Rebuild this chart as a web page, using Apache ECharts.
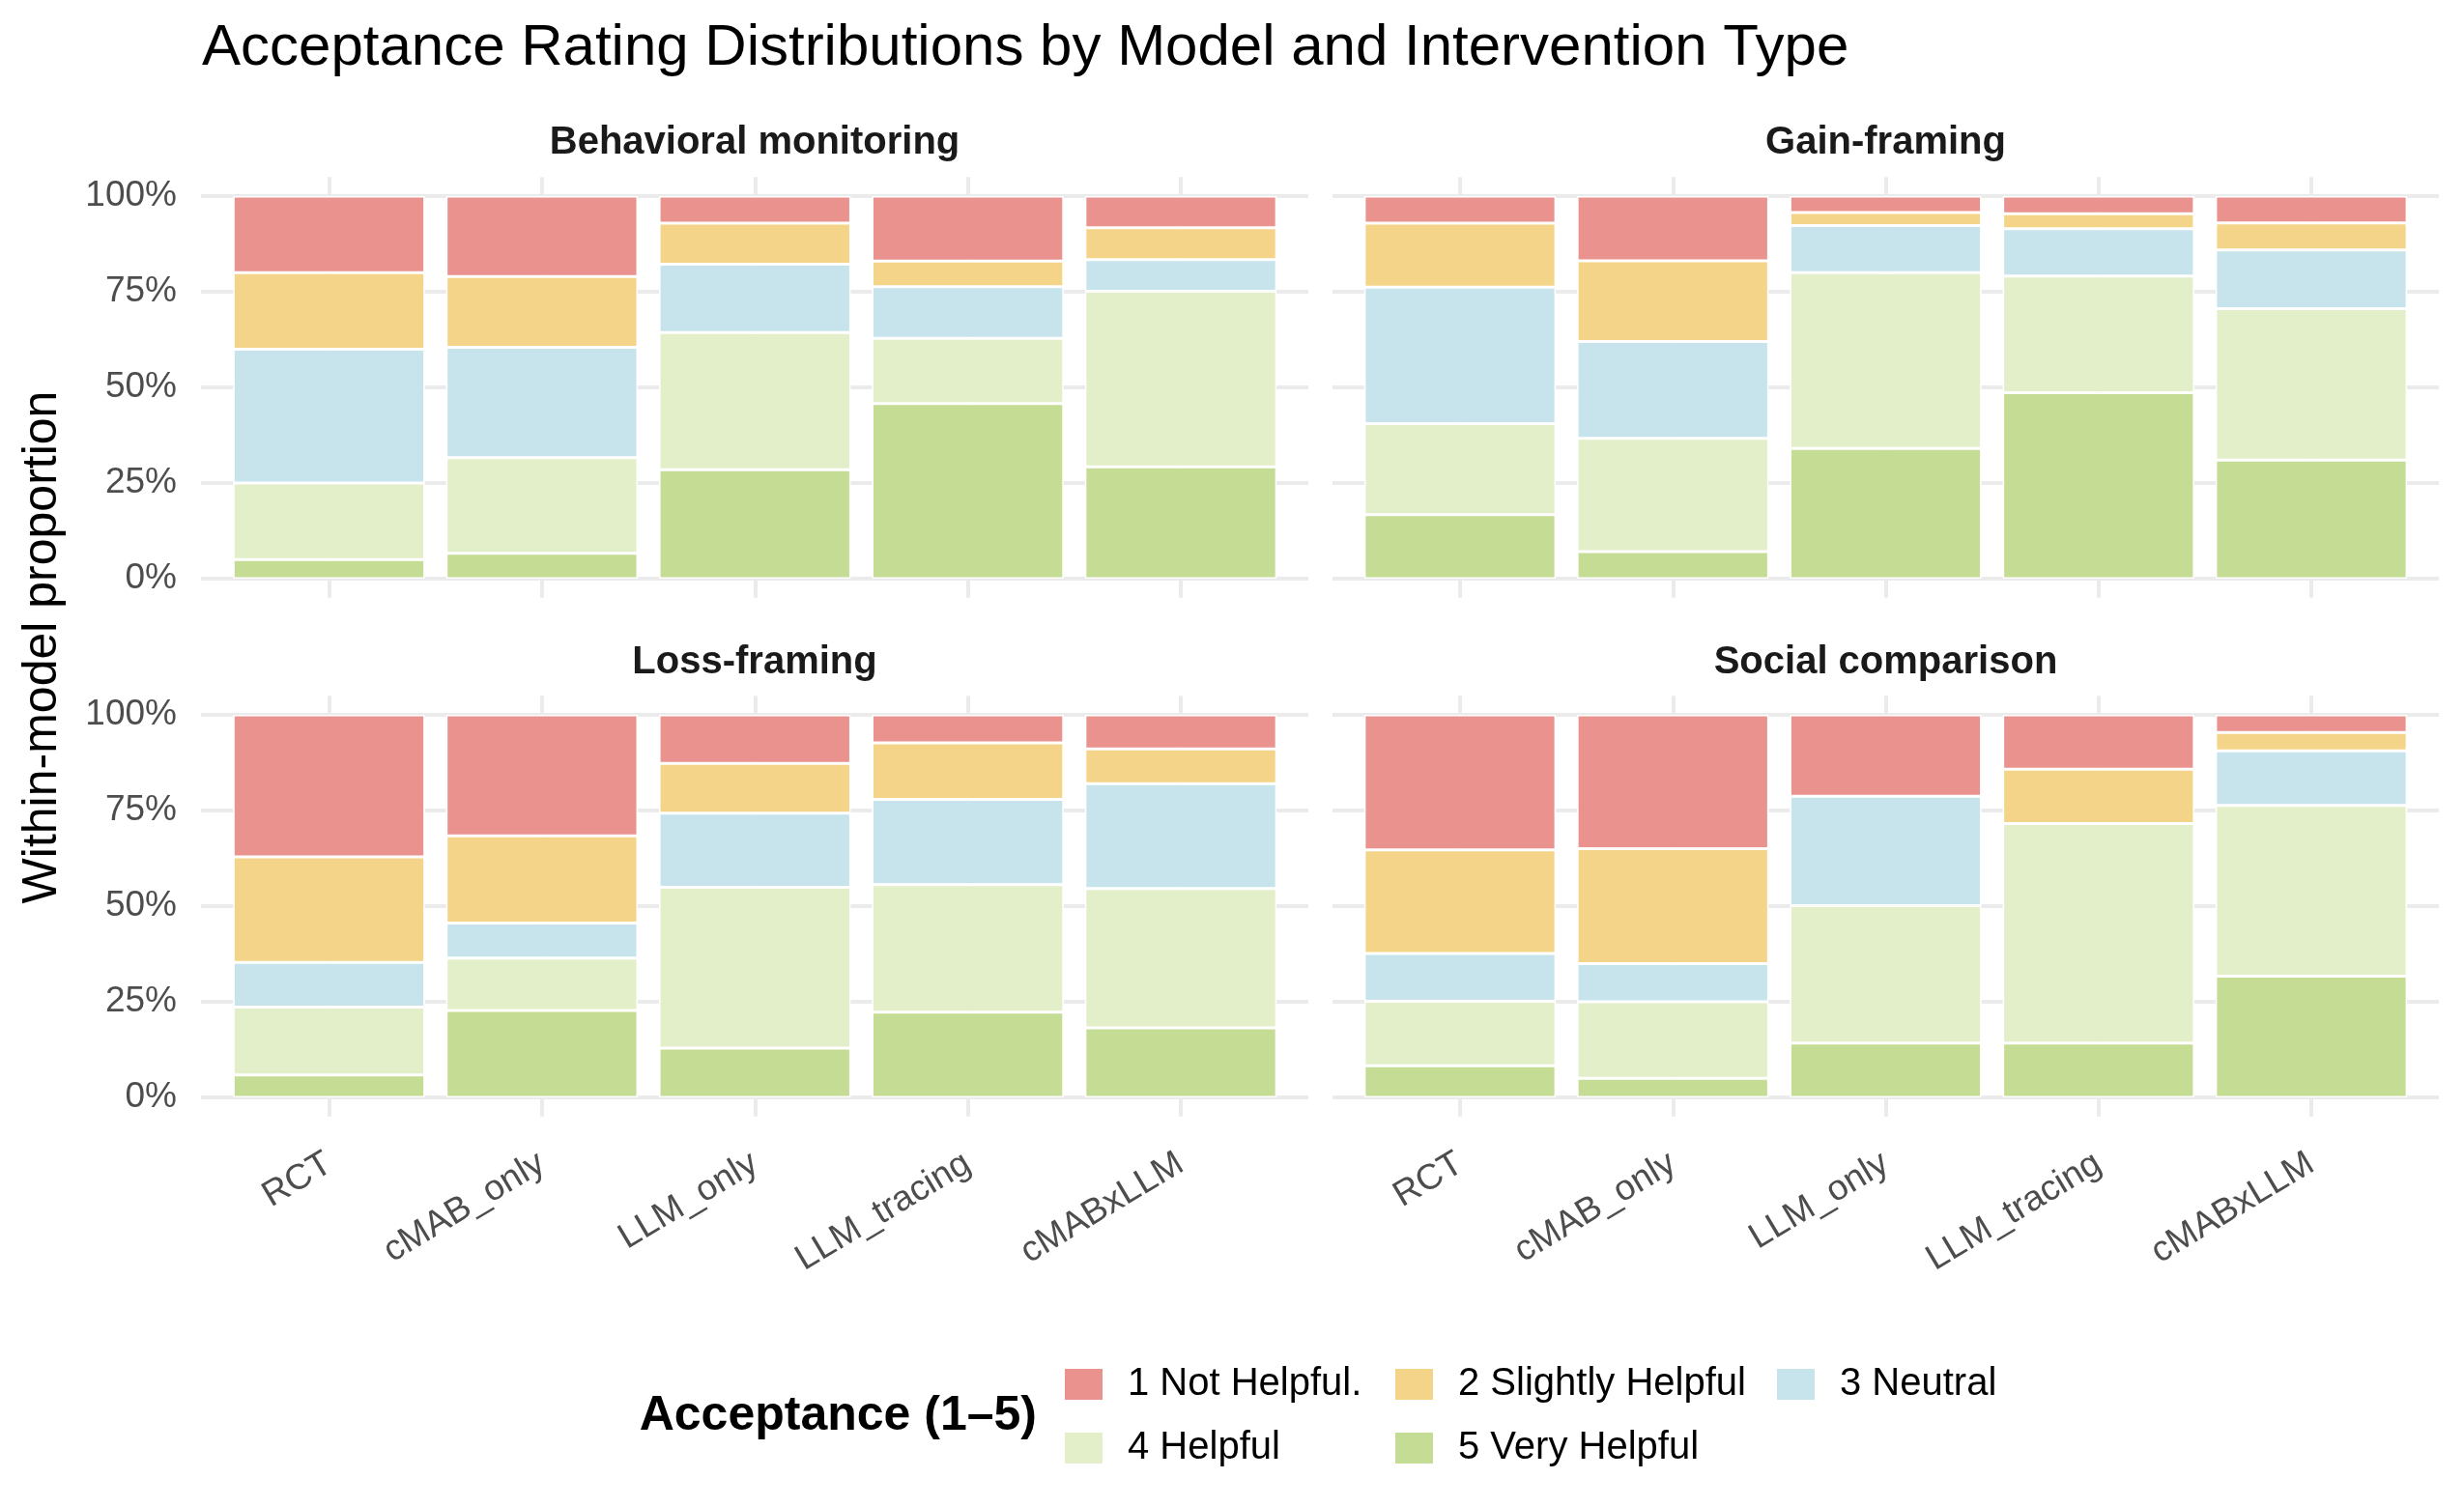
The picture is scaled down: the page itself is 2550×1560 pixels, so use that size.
<!DOCTYPE html>
<html>
<head>
<meta charset="utf-8">
<script src="https://cdn.jsdelivr.net/npm/echarts@6/dist/echarts.min.js"></script>
<style>
html,body{margin:0;padding:0;background:#fff;}
#chart{width:2550px;height:1560px;}
</style>
</head>
<body>
<div id="chart"></div>
<script>
const models = ['RCT', 'cMAB_only', 'LLM_only', 'LLM_tracing', 'cMABxLLM'];
const interventions = ['Behavioral monitoring', 'Gain-framing', 'Loss-framing', 'Social comparison'];
const ratingNames = ['1 Not Helpful.', '2 Slightly Helpful', '3 Neutral', '4 Helpful', '5 Very Helpful'];
const ratingColors = ['#E9928E', '#F4D488', '#C7E4EC', '#E2EFC9', '#C5DC94'];
const yTicks = [0, 0.25, 0.5, 0.75, 1];
const yTickLabels = ['0%', '25%', '50%', '75%', '100%'];

// rows: rating 1..5, columns: models
const behavioralMonitoring = [
  [0.200, 0.210, 0.071, 0.170, 0.083],
  [0.200, 0.185, 0.107, 0.067, 0.083],
  [0.350, 0.289, 0.179, 0.135, 0.083],
  [0.200, 0.250, 0.358, 0.170, 0.459],
  [0.050, 0.066, 0.285, 0.458, 0.292]
];
const gainFraming = [
  [0.071, 0.169, 0.043, 0.046, 0.070],
  [0.167, 0.211, 0.034, 0.039, 0.071],
  [0.357, 0.253, 0.123, 0.124, 0.153],
  [0.238, 0.296, 0.460, 0.305, 0.396],
  [0.167, 0.071, 0.340, 0.486, 0.310]
];
const lossFraming = [
  [0.371, 0.316, 0.127, 0.073, 0.089],
  [0.276, 0.228, 0.130, 0.148, 0.091],
  [0.117, 0.092, 0.194, 0.223, 0.274],
  [0.177, 0.137, 0.420, 0.333, 0.364],
  [0.059, 0.227, 0.129, 0.223, 0.182]
];
const socialComparison = [
  [0.353, 0.350, 0.213, 0.142, 0.046],
  [0.271, 0.300, 0.000, 0.142, 0.048],
  [0.125, 0.100, 0.286, 0.000, 0.143],
  [0.168, 0.200, 0.359, 0.574, 0.446],
  [0.083, 0.050, 0.142, 0.142, 0.317]
];
const panelData = [behavioralMonitoring, gainFraming, lossFraming, socialComparison];

// ---- layout ----
const FONT = '"Liberation Sans", Arial, Helvetica, sans-serif';
const panels = [
  {hl: 208, hw: 1146, vl: 340.5, vw: 881.5, top: 203, h: 396},
  {hl: 1379, hw: 1145, vl: 1511, vw: 881, top: 203, h: 396},
  {hl: 208, hw: 1146, vl: 340.5, vw: 881.5, top: 740, h: 396},
  {hl: 1379, hw: 1145, vl: 1511, vw: 881, top: 740, h: 396}
];
const GRID_COLOR = '#EBEBEB';

const grid = [], xAxis = [], yAxis = [], series = [];
panels.forEach((p, i) => {
  grid.push({left: p.hl, top: p.top, width: p.hw, height: p.h, containLabel: false});
  xAxis.push({type: 'value', gridIndex: i, min: 0, max: 1, show: false, splitLine: {show: false}});
  yAxis.push({
    type: 'value', gridIndex: i, min: 0, max: 1, interval: 0.25,
    axisLine: {show: false}, axisTick: {show: false},
    axisLabel: {
      show: i % 2 === 0, margin: 25, fontSize: 37, color: '#4D4D4D', fontFamily: FONT,
      formatter: v => { const k = yTicks.findIndex(t => Math.abs(t - v) < 1e-6); return k >= 0 ? yTickLabels[k] : ''; }
    },
    splitLine: {show: true, lineStyle: {color: GRID_COLOR, width: 4}}
  });
});
panels.forEach((p, i) => {
  const pad = p.h * 0.05;
  grid.push({left: p.vl, top: p.top - pad, width: p.vw, height: p.h + 2 * pad, containLabel: false});
  xAxis.push({
    type: 'category', gridIndex: 4 + i, data: models, boundaryGap: false,
    axisLine: {show: false}, axisTick: {show: false},
    axisLabel: {
      show: i >= 2, interval: 0, rotate: 31, margin: 46, fontSize: 37,
      color: '#4D4D4D', fontFamily: FONT, hideOverlap: false
    },
    splitLine: {show: true, lineStyle: {color: GRID_COLOR, width: 4}}
  });
  yAxis.push({type: 'value', gridIndex: 4 + i, min: -0.05, max: 1.05, show: false, splitLine: {show: false}});
  for (let r = 4; r >= 0; r--) {
    series.push({
      type: 'bar', name: ratingNames[r], xAxisIndex: 4 + i, yAxisIndex: 4 + i,
      stack: 'panel' + i, barWidth: '90%', data: panelData[i][r],
      itemStyle: {color: ratingColors[r], borderColor: '#FFFFFF', borderWidth: 1.5},
      emphasis: {disabled: true}, animation: false
    });
  }
});

const legendBase = {
  orient: 'vertical', top: 1413, itemWidth: 41, itemHeight: 34, itemGap: 26,
  padding: 0, selectedMode: false, icon: 'rect',
  textStyle: {fontSize: 40, color: '#000000', fontFamily: FONT, padding: [0, 0, 0, 20]}
};
const legend = [
  Object.assign({}, legendBase, {left: 1100, data: [ratingNames[0], ratingNames[3]]}),
  Object.assign({}, legendBase, {left: 1442, data: [ratingNames[1], ratingNames[4]]}),
  Object.assign({}, legendBase, {left: 1837, data: [ratingNames[2]]})
];

const stripCenters = panels.map(p => p.hl + p.hw / 2);
const stripY = [148, 148, 686, 686];
const graphic = [
  {type: 'text', x: 209, y: 50, style: {text: 'Acceptance Rating Distributions by Model and Intervention Type', font: '60px ' + FONT, fill: '#000000', textAlign: 'left', textVerticalAlign: 'middle'}},
  {type: 'text', x: 44, y: 670, rotation: Math.PI / 2,
   style: {text: 'Within-model proportion', font: '50px ' + FONT, fill: '#000000', textAlign: 'center', textVerticalAlign: 'middle'}},
  {type: 'text', x: 1073, y: 1466,
   style: {text: 'Acceptance (1\u20135)', font: 'bold 50px ' + FONT, fill: '#000000', textAlign: 'right', textVerticalAlign: 'middle'}}
];
interventions.forEach((name, i) => {
  graphic.push({type: 'text', x: stripCenters[i], y: stripY[i],
    style: {text: name, font: 'bold 40px ' + FONT, fill: '#1A1A1A', textAlign: 'center', textVerticalAlign: 'middle'}});
});

const chart = echarts.init(document.getElementById('chart'), null, {renderer: 'canvas'});
chart.setOption({
  backgroundColor: '#FFFFFF',
  animation: false,
  textStyle: {fontFamily: FONT},
  grid, xAxis, yAxis, series, legend, graphic
});
</script>
</body>
</html>
